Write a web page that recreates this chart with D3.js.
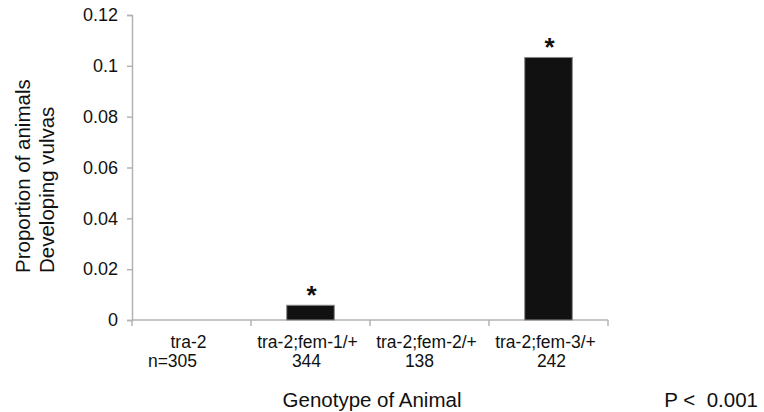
<!DOCTYPE html>
<html>
<head>
<meta charset="utf-8">
<script src="https://cdn.jsdelivr.net/npm/d3@7"></script>
<style>
  body { margin: 0; background: #fff; }
  text { font-family: "Liberation Sans", Arial, sans-serif; fill: #111; }
</style>
</head>
<body>
<div id="chart"></div>
<script>
// data
const genotypes = ["tra-2", "tra-2;fem-1/+", "tra-2;fem-2/+", "tra-2;fem-3/+"];
const sampleSizes = ["n=305", "344", "138", "242"];
const proportions = [0, 0.0058, 0, 0.1033];
const significant = [false, true, false, true];
const yTicks = [0, 0.02, 0.04, 0.06, 0.08, 0.1, 0.12];

const width = 764, height = 412;
const margin = {top: 15, right: 156, bottom: 92, left: 132};
const innerW = width - margin.left - margin.right;
const innerH = height - margin.top - margin.bottom;

const svg = d3.select("#chart").append("svg")
    .attr("width", width)
    .attr("height", height);

const g = svg.append("g")
    .attr("transform", `translate(${margin.left}, ${margin.top})`);

const x = d3.scaleBand()
    .domain(genotypes)
    .range([0, innerW])
    .padding(0);

const y = d3.scaleLinear()
    .domain([0, 0.12])
    .range([innerH, 0]);

const axisColor = "#b3b3b3";

// y axis
const yAxis = g.append("g")
    .call(d3.axisLeft(y).tickValues(yTicks).tickSize(5).tickPadding(9)
        .tickFormat(d => d === 0 ? "0" : String(+d.toFixed(2))));
yAxis.select(".domain").attr("stroke", axisColor).attr("stroke-width", 1.5);
yAxis.selectAll(".tick line").attr("stroke", axisColor).attr("stroke-width", 1.5);
yAxis.selectAll(".tick text").style("font-size", "18px").attr("fill", "#111");

// x axis with ticks between categories
const bounds = genotypes.map(d => x(d)).concat([innerW]);
const xAxis = g.append("g").attr("transform", `translate(0, ${innerH})`);
xAxis.append("line")
    .attr("x1", 0).attr("x2", innerW)
    .attr("stroke", axisColor).attr("stroke-width", 1.5);
xAxis.selectAll(".bt")
    .data(bounds)
    .enter()
    .append("line")
    .attr("x1", d => d).attr("x2", d => d)
    .attr("y1", 0).attr("y2", 6)
    .attr("stroke", axisColor).attr("stroke-width", 1.5);

// bars
const barW = x.bandwidth() * 0.4;
g.selectAll("rect.bar")
    .data(proportions)
    .enter()
    .append("rect")
    .attr("class", "bar")
    .attr("x", (d, i) => x(genotypes[i]) + (x.bandwidth() - barW) / 2)
    .attr("y", d => y(d))
    .attr("width", barW)
    .attr("height", d => innerH - y(d))
    .attr("fill", "#111")
    .attr("stroke", "#8a8a8a")
    .attr("stroke-width", d => d > 0 ? 1 : 0);

// significance stars
g.selectAll("text.star")
    .data(proportions)
    .enter()
    .filter((d, i) => significant[i])
    .append("text")
    .attr("x", (d, i) => x(genotypes[proportions.indexOf(d)]) + x.bandwidth() / 2 + 1)
    .attr("y", d => y(d) - 1)
    .attr("text-anchor", "middle")
    .style("font-size", "26px")
    .style("font-weight", "bold")
    .text("*");

// category labels
const labels = g.append("g").attr("transform", `translate(0, ${innerH})`);
labels.selectAll("text.cat")
    .data(genotypes)
    .enter()
    .append("text")
    .attr("x", d => x(d) + x.bandwidth() / 2 - 3)
    .attr("y", 28)
    .attr("text-anchor", "middle")
    .style("font-size", "17.5px")
    .text(d => d);
labels.selectAll("text.n")
    .data(sampleSizes)
    .enter()
    .append("text")
    .attr("x", (d, i) => x(genotypes[i]) + x.bandwidth() / 2 + [-19, -4, -10, 3][i])
    .attr("y", 47)
    .attr("text-anchor", "middle")
    .style("font-size", "17.5px")
    .text(d => d);

// axis titles
svg.append("text")
    .attr("x", 372).attr("y", 407)
    .attr("text-anchor", "middle")
    .style("font-size", "20.5px")
    .text("Genotype of Animal");

svg.append("text")
    .attr("x", 758).attr("y", 407)
    .attr("text-anchor", "end")
    .style("font-size", "20.5px")
    .style("white-space", "pre")
    .text("P <  0.001");

const yTitle = svg.append("text")
    .attr("transform", "translate(30, 273) rotate(-90)")
    .style("font-size", "20.5px");
yTitle.append("tspan").attr("x", 0).attr("y", 0).text("Proportion of animals");
yTitle.append("tspan").attr("x", 0).attr("y", 24).text("Developing vulvas");
</script>
</body>
</html>
